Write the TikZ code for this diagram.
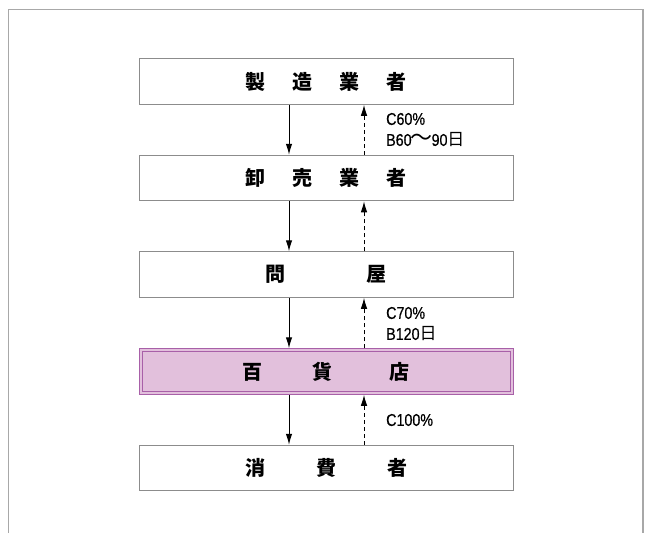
\documentclass[tikz,border=0pt]{standalone}
\usepackage{fontspec}
\setmainfont{Noto Sans CJK JP}
\newfontfamily\cjk{Noto Sans CJK JP}
\newfontfamily\lat[FakeStretch=0.84,FakeBold=0.6]{Liberation Sans}
\usetikzlibrary{arrows.meta}
\definecolor{boxline}{HTML}{8C8C8C}
\definecolor{pinkfill}{HTML}{E2C0DC}
\definecolor{pinkline}{HTML}{A860A8}
\definecolor{framegray}{HTML}{A8A8A8}
\newcommand{\wavedash}{{\cjk\fontsize{22}{21}\selectfont\kern-1pt〜\kern-1pt}}
\newcommand{\hiday}{{\cjk\fontsize{17}{21}\selectfont 日}}
\begin{document}
\begin{tikzpicture}[x=1pt,y=-1pt,
  stagebox/.style={draw=boxline,line width=1pt,fill=white,minimum width=374pt,minimum height=45.5pt,inner sep=0pt,font=\cjk\bfseries\fontsize{20}{21}\selectfont},
  pinkbox/.style={stagebox,fill=pinkfill,draw=pinkline,line width=1pt},
  flowdown/.style={draw=black,line width=1pt,-{Latex[length=11pt,width=6.5pt]}},
  payup/.style={draw=black,line width=1pt,dash pattern=on 4pt off 3pt,-{Latex[length=11pt,width=6.5pt]}},
  note/.style={anchor=west,inner sep=0pt,align=left,font=\lat\fontsize{17}{21}\selectfont}]
\useasboundingbox (0,0) rectangle (647,533);
\fill[white] (0,0) rectangle (647,533);
\draw[framegray,line width=1.8pt] (8.5,533) -- (8.5,9.5) -- (643,9.5) -- (643,533);

\node[stagebox] (maker) at (326,81.5) {製\hspace{27pt}造\hspace{27pt}業\hspace{27pt}者};
\node[stagebox] (whole) at (326,178) {卸\hspace{27pt}売\hspace{27pt}業\hspace{27pt}者};
\node[stagebox] (tonya) at (326,274.5) {問\hspace{81pt}屋};
\node[pinkbox] (dept) at (326,371.5) {百\hspace{50pt}貨\hspace{57pt}店};
\draw[pinkline,line width=1pt] ([shift={(3.5,3.5)}]dept.north west) rectangle ([shift={(-3.5,-3.5)}]dept.south east);
\node[stagebox] (cons) at (326,468) {消\hspace{51pt}費\hspace{51pt}者};

\foreach \a/\b in {maker/whole,whole/tonya,tonya/dept,dept/cons}{
  \draw[flowdown] (\a.south -| 289,0) -- (\b.north -| 289,0);
  \draw[payup] (\b.north -| 364,0) -- (\a.south -| 364,0);
}

\node[note] (n1) at (386,130) {C60\%\\B60\wavedash 90\hiday};
\node[note] (n2) at (386,324) {C70\%\\B120\hiday};
\node[note] (n3) at (386,420) {C100\%};
\end{tikzpicture}
\end{document}
